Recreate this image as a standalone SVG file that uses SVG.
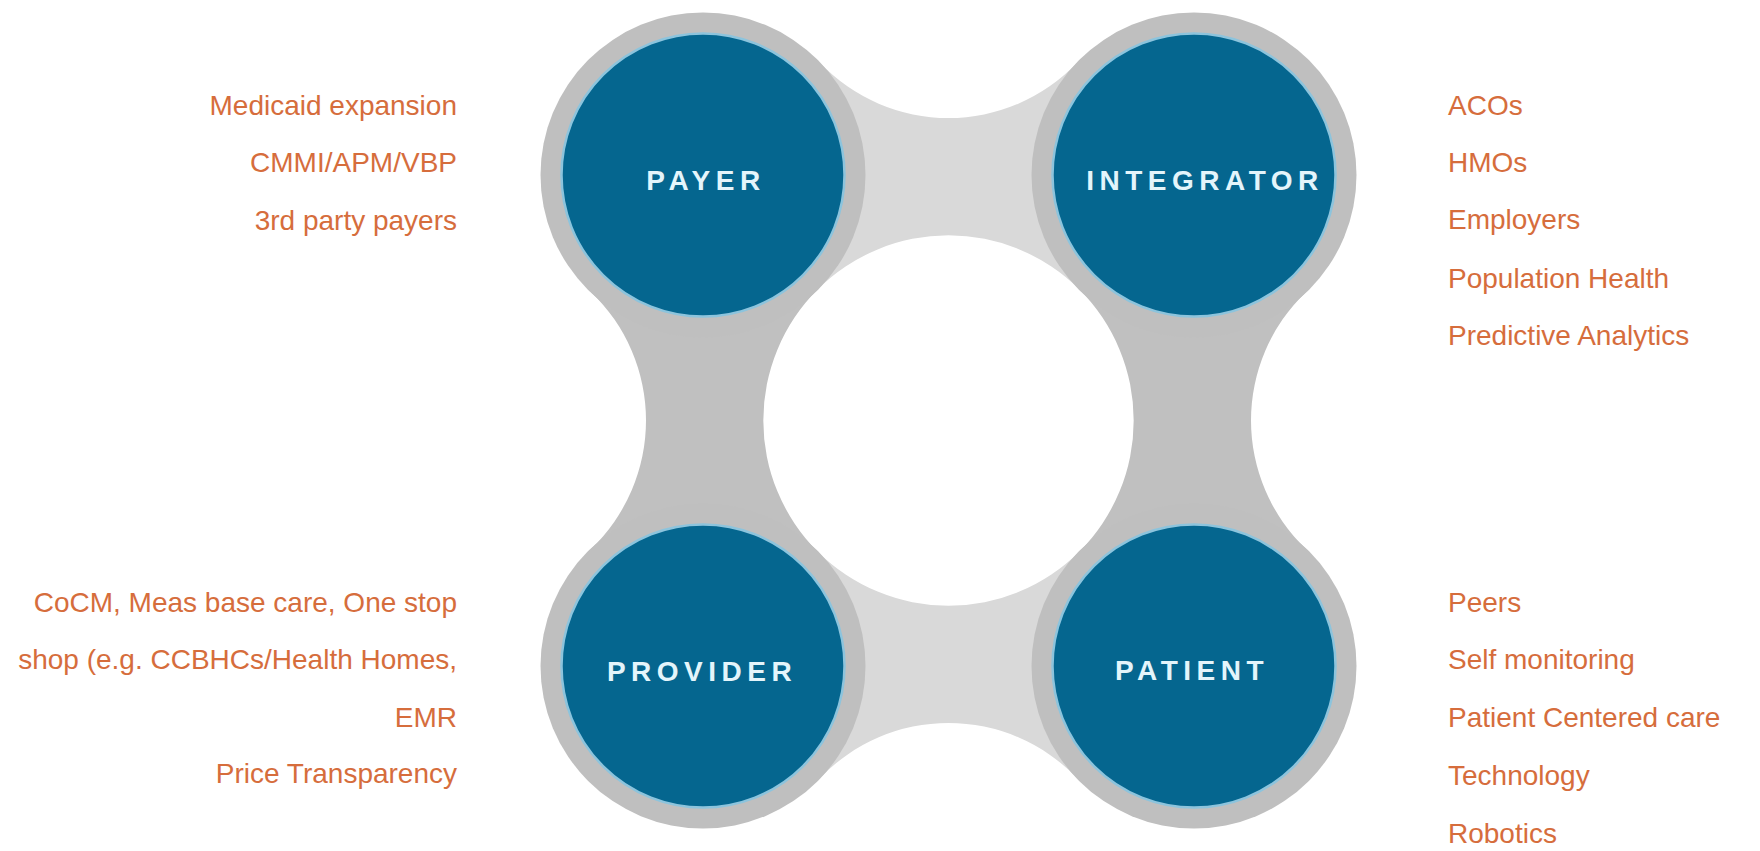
<svg xmlns="http://www.w3.org/2000/svg" width="1760" height="851" viewBox="0 0 1760 851">
<style>
.ring{fill:#bfbfbf}
.core{fill:#05668f;stroke:#8cc4dd;stroke-width:2.5}
.lbl{font-family:"Liberation Sans",Arial,sans-serif;font-weight:bold;font-size:28px;letter-spacing:5.5px;fill:#e4f5fb;text-anchor:middle}
.note{font-family:"Liberation Sans",Arial,sans-serif;font-size:28px;fill:#d66d3c}
.r{text-anchor:end}
.conn-h{fill:#d9d9d9}
.conn-v{fill:#c0c0c0}
</style>
<rect width="1760" height="851" fill="#ffffff"/>
<g id="connectors">
<path class="conn-h" d="M820.15,63.1 A177.5,177.5 0 0 0 1076.85,63.1 L1194,175 L1079.45,289.55 A185.2,185.2 0 0 0 817.55,289.55 L703,175 Z"/>
<path class="conn-h" d="M820.15,777.9 A177.5,177.5 0 0 1 1076.85,777.9 L1194,666 L1079.45,551.45 A185.2,185.2 0 0 1 817.55,551.45 L703,666 Z"/>
<path class="conn-v" d="M591.1,292.15 A177.5,177.5 0 0 1 591.1,548.85 L703,666 L817.55,551.45 A185.2,185.2 0 0 1 817.55,289.55 L703,175 Z"/>
<path class="conn-v" d="M1305.9,292.15 A177.5,177.5 0 0 0 1305.9,548.85 L1194,666 L1079.45,551.45 A185.2,185.2 0 0 0 1079.45,289.55 L1194,175 Z"/>
</g>
<g id="payer">
<circle class="ring" cx="703" cy="175" r="162.5"/>
<circle class="core" cx="703" cy="175" r="141.5"/>
<text class="lbl" x="706" y="190">PAYER</text>
</g>
<g id="integrator">
<circle class="ring" cx="1194" cy="175" r="162.5"/>
<circle class="core" cx="1194" cy="175" r="141.5"/>
<text class="lbl" x="1205" y="190">INTEGRATOR</text>
</g>
<g id="provider">
<circle class="ring" cx="703" cy="666" r="162.5"/>
<circle class="core" cx="703" cy="666" r="141.5"/>
<text class="lbl" x="702" y="681">PROVIDER</text>
</g>
<g id="patient">
<circle class="ring" cx="1194" cy="666" r="162.5"/>
<circle class="core" cx="1194" cy="666" r="141.5"/>
<text class="lbl" x="1192" y="680">PATIENT</text>
</g>
<g id="payer-notes" class="note r">
<text x="457" y="115">Medicaid expansion</text>
<text x="457" y="172">CMMI/APM/VBP</text>
<text x="457" y="230">3rd party payers</text>
</g>
<g id="integrator-notes" class="note">
<text x="1448" y="115">ACOs</text>
<text x="1448" y="172">HMOs</text>
<text x="1448" y="229">Employers</text>
<text x="1448" y="288">Population  Health</text>
<text x="1448" y="345">Predictive Analytics</text>
</g>
<g id="provider-notes" class="note r">
<text x="457" y="612">CoCM,  Meas base care, One stop</text>
<text x="457" y="669">shop  (e.g. CCBHCs/Health Homes,</text>
<text x="457" y="727">EMR</text>
<text x="457" y="783">Price Transparency</text>
</g>
<g id="patient-notes" class="note">
<text x="1448" y="612">Peers</text>
<text x="1448" y="669">Self monitoring</text>
<text x="1448" y="727">Patient Centered care</text>
<text x="1448" y="785">Technology</text>
<text x="1448" y="843">Robotics</text>
</g>
</svg>
